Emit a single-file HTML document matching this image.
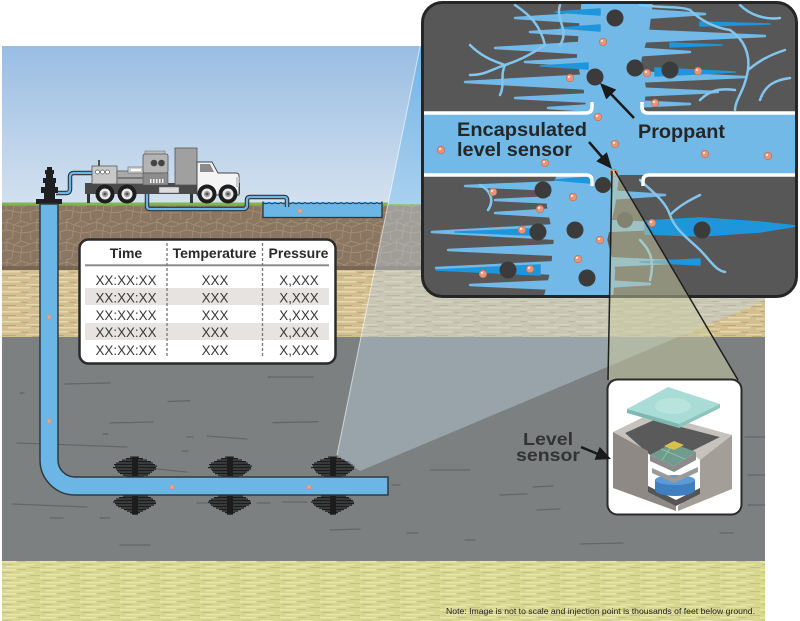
<!DOCTYPE html>
<html><head><meta charset="utf-8">
<style>html,body{margin:0;padding:0;background:#fff;}svg{display:block;}</style></head>
<body>
<svg width="800" height="621" viewBox="0 0 800 621" xmlns="http://www.w3.org/2000/svg" font-family="'Liberation Sans', Arial, sans-serif">
<defs>
<linearGradient id="sky" x1="0" y1="46" x2="0" y2="204" gradientUnits="userSpaceOnUse">
 <stop offset="0" stop-color="#99bde3"/><stop offset="1" stop-color="#d3e1ef"/>
</linearGradient>
<linearGradient id="beamsky" x1="0" y1="46" x2="0" y2="204" gradientUnits="userSpaceOnUse">
 <stop offset="0" stop-color="#74b3e3"/><stop offset="1" stop-color="#a9d0ef"/>
</linearGradient>
<pattern id="cobble" width="30" height="20" patternUnits="userSpaceOnUse">
 <rect width="30" height="20" fill="#8b7662"/>
 <path d="M0 4 L7 2 L14 5 L21 1 L30 4 M7 2 L6 10 L0 12 M6 10 L13 11 L14 5 M13 11 L12 18 L6 20 M13 11 L21 13 L22 7 L14 5 M22 7 L30 4 M21 13 L20 20 M21 13 L30 12 M0 12 L1 20 M21 1 L21 0 M7 0 L7 2" stroke="#a28d79" stroke-width="0.9" fill="none"/>
</pattern>
<pattern id="tan" width="48" height="10" patternUnits="userSpaceOnUse">
 <rect width="48" height="10" fill="#d3be90"/>
 <rect x="0" y="1" width="20" height="1.5" fill="#e6d8ae"/>
 <rect x="26" y="4" width="16" height="1.2" fill="#e6d8ae"/>
 <rect x="8" y="7" width="22" height="1.5" fill="#e6d8ae"/>
 <rect x="36" y="8.5" width="12" height="1" fill="#e6d8ae"/>
 <rect x="22" y="2" width="6" height="1" fill="#bba77a"/>
 <rect x="2" y="5" width="14" height="1" fill="#bba77a"/>
 <rect x="32" y="6" width="10" height="1" fill="#bba77a"/>
 <rect x="40" y="1" width="6" height="1" fill="#bba77a"/>
</pattern>
<pattern id="yel" width="40" height="8" patternUnits="userSpaceOnUse">
 <rect width="40" height="8" fill="#d8d792"/>
 <rect x="0" y="1" width="16" height="1.5" fill="#e9e8a8"/>
 <rect x="20" y="4" width="14" height="1.2" fill="#e9e8a8"/>
 <rect x="6" y="6" width="20" height="1.4" fill="#e9e8a8"/>
 <rect x="18" y="1" width="8" height="1" fill="#c5c37f"/>
 <rect x="30" y="7" width="10" height="1" fill="#c5c37f"/>
 <rect x="2" y="4" width="10" height="1" fill="#c5c37f"/>
</pattern>
<clipPath id="scene"><rect x="2" y="46" width="763" height="575"/></clipPath>
<clipPath id="skyclip"><rect x="2" y="46" width="763" height="158"/></clipPath>
<clipPath id="groundclip"><rect x="2" y="204" width="763" height="417"/></clipPath>
<clipPath id="insetclip"><rect x="423.5" y="3.5" width="372" height="292" rx="18"/></clipPath>
<g id="frac" fill="#1d1d1d">
 <rect x="-3" y="-20" width="6" height="20"/>
 <rect x="-5" y="-20.5" width="9" height="1.2"/>
 <rect x="-9" y="-19" width="17" height="1.2"/>
 <rect x="-13" y="-17.5" width="25" height="1.2"/>
 <rect x="-16" y="-16" width="32" height="1.2"/>
 <rect x="-19" y="-14.5" width="37" height="1.2"/>
 <rect x="-21" y="-13" width="41" height="1.2"/>
 <rect x="-20" y="-11.5" width="42" height="1.2"/>
 <rect x="-22" y="-10" width="43" height="1.2"/>
 <rect x="-19" y="-8.5" width="40" height="1.2"/>
 <rect x="-18" y="-7" width="37" height="1.2"/>
 <rect x="-17" y="-5.5" width="34" height="1.2"/>
 <rect x="-15" y="-4" width="30" height="1.2"/>
 <rect x="-12" y="-2.5" width="25" height="1.2"/>
 <rect x="-9" y="-1" width="18" height="1.2"/>
 <rect x="-3" y="18" width="6" height="19"/>
 <rect x="-12" y="18.5" width="25" height="1.2"/>
 <rect x="-16" y="20" width="32" height="1.2"/>
 <rect x="-19" y="21.5" width="37" height="1.2"/>
 <rect x="-21" y="23" width="41" height="1.2"/>
 <rect x="-22" y="24.5" width="43" height="1.2"/>
 <rect x="-20" y="26" width="41" height="1.2"/>
 <rect x="-19" y="27.5" width="38" height="1.2"/>
 <rect x="-17" y="29" width="33" height="1.2"/>
 <rect x="-14" y="30.5" width="28" height="1.2"/>
 <rect x="-11" y="32" width="22" height="1.2"/>
 <rect x="-8" y="33.5" width="16" height="1.2"/>
 <rect x="-5" y="35" width="10" height="1.2"/>
 <rect x="-3" y="36.5" width="6" height="1.2"/>
</g>
<g id="pp">
 <circle r="3.8" fill="#e6957a" stroke="#b86a50" stroke-width="0.6"/>
 <circle cx="-1" cy="-1.1" r="1.2" fill="#fbe3d8"/>
</g>
</defs>

<rect width="800" height="621" fill="#fff"/>

<g clip-path="url(#scene)">
 <rect x="2" y="46" width="763" height="158" fill="url(#sky)"/>
 <rect x="2" y="204" width="763" height="66" fill="url(#cobble)"/>
 <rect x="2" y="266" width="763" height="5" fill="#705e4c" opacity="0.7"/>
 <rect x="2" y="270" width="763" height="67" fill="url(#tan)"/>
 <rect x="2" y="337" width="763" height="224" fill="#7c8081"/>
 <rect x="2" y="561" width="763" height="60" fill="url(#yel)"/>
 <rect x="2" y="202.5" width="763" height="3" fill="#7db84c"/>
 <path d="M65 384 L110 383 M168 401.5 L190 400.7 M110 423 L153 422 M273 422.7 L318 421.7 M17 443 L127 447 M182 451 L188 451 M207 436 L247 439 M147 468 L187 472 M12 504 L87 507 M50 518 L63 518 M100 518 L110 518 M197 503 L213 503 M283 502 L307 502 M392 485 L400 485 M257 503 L270 503 M187 437 L193 437 M407 533 L418 533 M465 540 L475 540 M580 544 L623 543 M720 533 L733 533 M533 487 L553 486 M500 495 L527 494 M537 510 L560 509 M268 377 L313 377 M745 437 L765 437 M748 475 L765 475 M748 505 L765 505 M20 393 L24 393 M103 434 L108 434 M330 530 L360 529 M120 545 L150 545 M430 470 L470 470" stroke="#63676a" stroke-width="1.3" stroke-linecap="round" fill="none"/>

 <rect x="263" y="202" width="119" height="15.5" fill="#6cb6e6"/>
 <path d="M263 201.5 V217.5 H382 V201.5" stroke="#333" stroke-width="1.3" fill="none"/>
 <path d="M263 202.5 q3 2.5 6 0 q3 2.5 6 0 q3 2.5 6 0 q3 2.5 6 0 q3 2.5 6 0 q3 2.5 6 0 q3 2.5 6 0 q3 2.5 6 0 q3 2.5 6 0 q3 2.5 6 0 q3 2.5 6 0 q3 2.5 6 0 q3 2.5 6 0 q3 2.5 6 0 q3 2.5 6 0 q3 2.5 6 0 q3 2.5 6 0 q3 2.5 6 0 q3 2.5 6 0 q3 2.5 5 0" stroke="#333" stroke-width="0.9" fill="none"/>
 <circle cx="300" cy="211" r="2.2" fill="#e6a48e" stroke="#c98c77" stroke-width="0.5"/>

 <g fill="none" stroke-linejoin="round">
  <path d="M56 193 H66 Q70 193 70 189 V177 Q70 173 74 173 H93" stroke="#2c3338" stroke-width="4.5"/>
  <path d="M56 193 H66 Q70 193 70 189 V177 Q70 173 74 173 H93" stroke="#6cb6e6" stroke-width="2.3"/>
  <path d="M147 182 V206 Q147 209 150 209 H243 Q247 209 247 205 V200 Q247 197 250 197 H284 Q287 197 287 200 V207" stroke="#2c3338" stroke-width="4.5"/>
  <path d="M147 182 V206 Q147 209 150 209 H243 Q247 209 247 205 V200 Q247 197 250 197 H284 Q287 197 287 200 V207" stroke="#6cb6e6" stroke-width="2.3"/>
 </g>

 <g fill="#1f1f1f">
  <rect x="47" y="167" width="5" height="3"/>
  <rect x="45" y="170" width="9" height="4"/>
  <rect x="46" y="174" width="7" height="4"/>
  <rect x="43" y="178" width="13" height="5"/>
  <rect x="45" y="183" width="10" height="4"/>
  <rect x="41" y="187" width="17" height="6"/>
  <rect x="44" y="193" width="11" height="6"/>
  <rect x="36" y="199" width="26" height="5"/>
 </g>

 <rect x="87" y="190" width="3" height="13" fill="#333"/>
 <rect x="190" y="190" width="3" height="13" fill="#333"/>
 <rect x="85" y="183" width="155" height="11" fill="#4a4a4a"/>
 <rect x="92" y="166" width="25" height="18" fill="#c8c8c8" stroke="#555" stroke-width="0.8"/>
 <rect x="98" y="160" width="2" height="6" fill="#555"/>
 <circle cx="97.5" cy="172" r="2" fill="#fff" stroke="#555" stroke-width="0.7"/>
 <circle cx="102.5" cy="172" r="2" fill="#fff" stroke="#555" stroke-width="0.7"/>
 <circle cx="107.5" cy="172" r="2" fill="#fff" stroke="#555" stroke-width="0.7"/>
 <rect x="117" y="171" width="28" height="13" fill="#a9a9a9" stroke="#555" stroke-width="0.8"/>
 <rect x="117" y="177" width="28" height="2" fill="#777"/>
 <rect x="128" y="167" width="16" height="6" fill="#d0d0d0" stroke="#666" stroke-width="0.6"/>
 <rect x="131" y="169" width="10" height="2" fill="#fff"/>
 <rect x="145" y="151" width="20" height="4" fill="#bdbdbd" stroke="#666" stroke-width="0.5"/>
 <rect x="143" y="154" width="25" height="19" rx="2" fill="#b4b4b4" stroke="#555" stroke-width="0.8"/>
 <circle cx="154" cy="163" r="3.3" fill="#444"/>
 <circle cx="161.5" cy="163" r="3.3" fill="#444"/>
 <rect x="143" y="173" width="25" height="12" fill="#8c8c8c" stroke="#555" stroke-width="0.6"/>
 <g fill="#f2f2f2"><rect x="150" y="179" width="1.5" height="4"/><rect x="153" y="179" width="1.5" height="4"/><rect x="156" y="179" width="1.5" height="4"/><rect x="159" y="179" width="1.5" height="4"/><rect x="162" y="179" width="1.5" height="4"/></g>
 <rect x="175" y="148" width="22" height="37" fill="#a0a0a0" stroke="#555" stroke-width="0.8"/>
 <rect x="159" y="187" width="20" height="6" fill="#ddd" stroke="#666" stroke-width="0.5"/>
 <path d="M197 162 H212 L218 173 H236 Q239 173 239 176 V195 H197 Z" fill="#f4f4f4" stroke="#444" stroke-width="0.9"/>
 <path d="M200 164 H210 L214 172 H200 Z" fill="#8a8a8a"/>
 <rect x="236" y="177" width="3" height="10" fill="#ccc"/>
 <g>
  <circle cx="105" cy="194" r="9.5" fill="#1e1e1e"/><circle cx="105" cy="194" r="5.5" fill="#e8e8e8"/><circle cx="105" cy="194" r="3" fill="#999"/><circle cx="105" cy="194" r="1.4" fill="#555"/>
  <circle cx="127" cy="194" r="9.5" fill="#1e1e1e"/><circle cx="127" cy="194" r="5.5" fill="#e8e8e8"/><circle cx="127" cy="194" r="3" fill="#999"/><circle cx="127" cy="194" r="1.4" fill="#555"/>
  <circle cx="207" cy="194" r="9.5" fill="#1e1e1e"/><circle cx="207" cy="194" r="5.5" fill="#e8e8e8"/><circle cx="207" cy="194" r="3" fill="#999"/><circle cx="207" cy="194" r="1.4" fill="#555"/>
  <circle cx="228" cy="194" r="9.5" fill="#1e1e1e"/><circle cx="228" cy="194" r="5.5" fill="#e8e8e8"/><circle cx="228" cy="194" r="3" fill="#999"/><circle cx="228" cy="194" r="1.4" fill="#555"/>
 </g>

 <use href="#frac" transform="translate(135,477)"/>
 <use href="#frac" transform="translate(230,477)"/>
 <use href="#frac" transform="translate(333,477)"/>

 <path d="M40 204 V460 A35 35 0 0 0 75 495 H388 V477 H75 A17 17 0 0 1 58 460 V204 Z" fill="#6cb6e6" stroke="#2f3a40" stroke-width="1.5"/>
 <g fill="#e6a48e" stroke="#c98c77" stroke-width="0.5">
  <circle cx="49" cy="317" r="2.2"/><circle cx="49" cy="421" r="2.2"/><circle cx="172" cy="487" r="2.2"/><circle cx="309" cy="487" r="2.2"/>
 </g>

 <rect x="79.5" y="239.5" width="256" height="124" rx="9" fill="#fff" stroke="#2a2a2a" stroke-width="2.5"/>
 <rect x="85" y="288" width="244" height="17" fill="#e6e3e0"/>
 <rect x="85" y="323" width="244" height="17" fill="#e6e3e0"/>
 <rect x="85" y="264.3" width="244" height="2" fill="#8a8a8a"/>
 <path d="M167 243 V358 M262.5 243 V358" stroke="#777" stroke-width="1.3" stroke-dasharray="3 2" fill="none"/>
 <g font-weight="bold" font-size="14" fill="#2a2a2a" text-anchor="middle">
  <text x="126" y="258">Time</text>
  <text x="214.5" y="258">Temperature</text>
  <text x="298.5" y="258">Pressure</text>
 </g>
 <g font-size="13.4" fill="#3a3a3a" text-anchor="middle">
  <text x="126" y="285">XX:XX:XX</text><text x="215" y="285">XXX</text><text x="299" y="285">X,XXX</text>
  <text x="126" y="302.5">XX:XX:XX</text><text x="215" y="302.5">XXX</text><text x="299" y="302.5">X,XXX</text>
  <text x="126" y="320">XX:XX:XX</text><text x="215" y="320">XXX</text><text x="299" y="320">X,XXX</text>
  <text x="126" y="337">XX:XX:XX</text><text x="215" y="337">XXX</text><text x="299" y="337">X,XXX</text>
  <text x="126" y="355">XX:XX:XX</text><text x="215" y="355">XXX</text><text x="299" y="355">X,XXX</text>
 </g>

 <polygon points="337,455 423,32 790,32 790,290 360,471" fill="url(#beamsky)" clip-path="url(#skyclip)"/>
 <polygon points="337,455 423,32 790,32 790,290 360,471" fill="#bcd0dc" opacity="0.45" clip-path="url(#groundclip)"/>
 <line x1="337" y1="455" x2="423" y2="32" stroke="#fff" stroke-width="1" opacity="0.6"/>

 <text x="446" y="614" font-size="8.5" fill="#222" textLength="309" lengthAdjust="spacingAndGlyphs">Note: Image is not to scale and injection point is thousands of feet below ground.</text>
</g>

<rect x="422.5" y="2.5" width="374" height="294" rx="20" fill="#575757"/>
<g clip-path="url(#insetclip)">
 <g fill="#72b9e7" stroke="#72b9e7" stroke-width="2.5" stroke-linejoin="round">
  <polygon points="583,0 652,0 648,30 640,60 645,90 642,113 588,113 585,90 578,60 580,30"/>
  <polygon points="595,13 515,18 595,23"/>
  <polygon points="595,28 530,32 595,36"/>
  <polygon points="595,42 495,48 595,54"/>
  <polygon points="595,58 525,62 595,66"/>
  <polygon points="595,75 465,82 595,89"/>
  <polygon points="595,94 515,98 595,102"/>
  <polygon points="595,105 548,108 595,111"/>
  <polygon points="630,9 705,14 630,19"/>
  <polygon points="630,30 765,36 630,42"/>
  <polygon points="630,48 690,52 630,56"/>
  <polygon points="630,72 745,77 630,82"/>
  <polygon points="630,88 718,92 630,96"/>
  <polygon points="630,101 690,104 630,107"/>
  <polygon points="558,175 618,175 614,205 606,240 614,270 612,297 545,297 552,270 555,240 548,205"/>
  <polygon points="560,182 465,186 560,190"/>
  <polygon points="560,197 495,200 560,203"/>
  <polygon points="560,209 495,213 560,217"/>
  <polygon points="560,225 432,232 560,239"/>
  <polygon points="560,245 448,250 560,255"/>
  <polygon points="560,262 436,268 560,274"/>
  <polygon points="560,281 470,285 560,289"/>
  <polygon points="605,191 665,195 605,199"/>
  <polygon points="605,221 725,226 605,231"/>
  <polygon points="605,258 690,262 605,266"/>
  <polygon points="605,281 650,284 605,287"/>
 </g>
 <g fill="#1f95dc" stroke="#1f95dc" stroke-width="1.5" stroke-linejoin="round">
  <polygon points="600,9 555,12 600,15"/>
  <polygon points="600,25 560,28 600,31"/>
  <polygon points="588,63 540,66 588,69"/>
  <polygon points="655,68 735,72 655,76"/>
  <polygon points="700,22 770,24 700,26"/>
  <polygon points="670,43 722,45 670,47"/>
  <polygon points="540,265 436,270 540,275"/>
  <polygon points="530,229 455,232 530,235"/>
  <polygon points="645,221 700,218 760,222 797,226 760,232 700,236 645,234"/>
  <polygon points="700,259 640,262 700,265"/>
  <polygon points="590,177 555,180 590,183"/>
 </g>
 <g stroke="#82c6ee" stroke-width="2.5" fill="none" stroke-linecap="round">
  <path d="M515 5 C530 15 540 25 545 45"/>
  <path d="M545 45 C530 55 520 60 505 65 C500 75 505 85 500 95"/>
  <path d="M560 5 C555 20 570 30 560 45"/>
  <path d="M505 65 C490 70 485 75 470 75"/>
  <path d="M470 45 C480 55 490 60 505 65"/>
  <path d="M690 10 C700 20 715 28 730 30 C745 40 750 55 748 70 C745 90 735 100 735 110"/>
  <path d="M748 70 C760 60 770 55 785 50"/>
  <path d="M760 100 C765 85 775 80 790 78"/>
  <path d="M700 100 C710 90 720 88 735 90"/>
  <path d="M640 5 C660 8 680 6 690 10"/>
  <path d="M740 5 C750 15 765 20 780 18"/>
  <path d="M480 185 C490 190 495 200 488 210"/>
  <path d="M640 180 C650 190 665 200 670 215 C675 230 690 240 700 250"/>
  <path d="M670 215 C680 205 690 200 700 195"/>
  <path d="M640 240 C650 250 655 260 650 280"/>
  <path d="M700 250 C710 260 715 270 725 272"/>
 </g>
 <rect x="422" y="113" width="376" height="62" fill="#72b9e7"/>
 <g stroke="#fff" stroke-width="3.5" fill="none">
  <path d="M422 113 H586 Q592 113 592 107 V102"/>
  <path d="M642 102 V107 Q642 113 648 113 H800"/>
  <path d="M422 175 H586 Q592 175 592 181 V186"/>
  <path d="M643 186 V181 Q643 175 649 175 H800"/>
 </g>
 <g fill="#3b3b3b">
  <circle cx="615" cy="18" r="8.5"/><circle cx="595" cy="77" r="8.5"/><circle cx="635" cy="68" r="8.5"/>
  <circle cx="670" cy="70" r="8.5"/><circle cx="543" cy="190" r="8.5"/><circle cx="603" cy="185" r="8"/>
  <circle cx="538" cy="232" r="8.5"/><circle cx="575" cy="230" r="8.5"/><circle cx="625" cy="220" r="8"/>
  <circle cx="702" cy="230" r="8.5"/><circle cx="508" cy="270" r="8.5"/><circle cx="587" cy="278" r="8.5"/>
 </g>
 <use href="#pp" x="603" y="42"/><use href="#pp" x="570" y="78"/><use href="#pp" x="647" y="73"/>
 <use href="#pp" x="698" y="71"/><use href="#pp" x="655" y="103"/><use href="#pp" x="598" y="117"/>
 <use href="#pp" x="615" y="144"/><use href="#pp" x="441" y="150"/><use href="#pp" x="545" y="163"/>
 <use href="#pp" x="705" y="154"/><use href="#pp" x="768" y="156"/><use href="#pp" x="614" y="173"/>
 <use href="#pp" x="493" y="192"/><use href="#pp" x="573" y="197"/><use href="#pp" x="540" y="209"/>
 <use href="#pp" x="522" y="230"/><use href="#pp" x="600" y="240"/><use href="#pp" x="652" y="223"/>
 <use href="#pp" x="578" y="259"/><use href="#pp" x="530" y="269"/><use href="#pp" x="483" y="274"/>

 <g font-weight="bold" fill="#262626">
  <text x="457" y="136" font-size="19" textLength="130" lengthAdjust="spacingAndGlyphs">Encapsulated</text>
  <text x="457" y="156" font-size="19" textLength="115" lengthAdjust="spacingAndGlyphs">level sensor</text>
  <text x="638" y="138" font-size="19" textLength="87" lengthAdjust="spacingAndGlyphs">Proppant</text>
 </g>
 <g fill="#1a1a1a" stroke="#1a1a1a">
  <line x1="634" y1="118" x2="611" y2="94" stroke-width="2.5"/>
  <polygon points="600,83 616.2,89.6 606.2,99.4" stroke="none"/>
  <line x1="589" y1="142" x2="602" y2="157" stroke-width="2.5"/>
  <polygon points="612,169 606.9,152.3 596.3,161.3" stroke="none"/>
 </g>
</g>
<rect x="422.5" y="2.5" width="374" height="294" rx="20" fill="none" stroke="#262626" stroke-width="3"/>

<polygon points="612,171 615,171 738,380 608,380" fill="#c9cba2" opacity="0.5"/>
<g stroke="#1e1e1e" stroke-width="1.5">
 <line x1="612" y1="171" x2="608" y2="380"/>
 <line x1="615" y1="171" x2="738" y2="380"/>
</g>

<rect x="607.5" y="379.5" width="134" height="135" rx="10" fill="#fff" stroke="#2a2a2a" stroke-width="2"/>
<g>
 <polygon points="613,432 652,413 732,435 700,460 690,452 720,437 654,420 625,433 648,451" fill="#c6c3be"/>
 <polygon points="625,433 654,420 720,437 690,452 672,444 650,455" fill="#5a5a5a"/>
 <polygon points="613,432 648,451 648,486 676,506 676,511 613,488" fill="#8e8984"/>
 <polygon points="732,435 732,489 678,511 678,506 700,488 700,460" fill="#a39e97"/>
 <polygon points="648,486 676,500 700,488 700,494 676,506 648,492" fill="#555"/>
 <rect x="655" y="480" width="40" height="10" fill="#3f7fbf"/>
 <ellipse cx="675" cy="490" rx="20" ry="6" fill="#3f7fbf"/>
 <ellipse cx="675" cy="480" rx="20" ry="5" fill="#5a9ad8"/>
 <polygon points="652,468 674,478 698,467 698,472 674,483 652,473" fill="#9a9a9a"/>
 <polygon points="650,455 674,466 696,452 696,460 674,472 650,461" fill="#8b8b8b"/>
 <polygon points="650,455 672,443 696,452 674,466" fill="#6f9c8c"/>
 <path d="M661 449 L685 459 M673 444 L662 460" stroke="#9cc4b4" stroke-width="0.8"/>
 <polygon points="664,446 674,441 684,445 674,450" fill="#d8c24a"/>
 <polygon points="627,409 668,387 720,404 679,424" fill="#a9dcd6"/>
 <ellipse cx="673" cy="406" rx="18" ry="8" fill="#b9e4de"/>
 <polygon points="627,409 679,424 679,428 627,413" fill="#7fb8b2"/>
 <polygon points="679,424 720,404 720,408 679,428" fill="#8cc4be"/>
</g>
<g font-weight="bold" fill="#333" text-anchor="middle" font-size="17.5">
 <text x="548" y="445" textLength="50" lengthAdjust="spacingAndGlyphs">Level</text>
 <text x="548" y="461" textLength="64" lengthAdjust="spacingAndGlyphs">sensor</text>
</g>
<line x1="581" y1="447" x2="599" y2="454.5" stroke="#1a1a1a" stroke-width="2.5"/>
<polygon points="611,459 599.7,446.9 594.5,459.9" fill="#1a1a1a"/>
</svg>
</body></html>
